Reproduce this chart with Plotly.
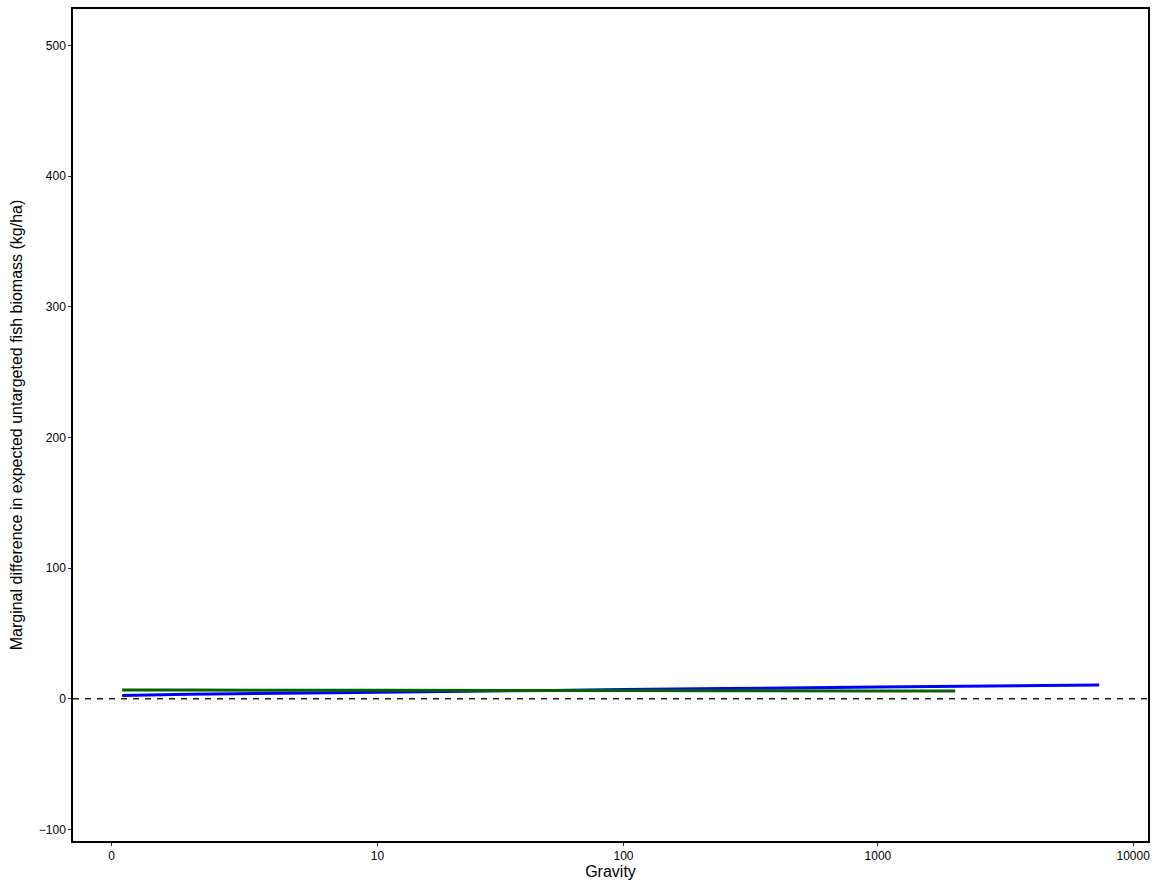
import numpy as np
import plotly.graph_objects as go

# Data (gravity values and marginal differences)
gravity_blue = [0.1, 1, 10, 100, 1000, 7360]
diff_blue = [2.4, 3.4, 4.9, 7.0, 8.9, 10.5]
gravity_green = [0.1, 1, 10, 100, 1000, 2009]
diff_green = [6.6, 6.6, 6.5, 6.3, 6.0, 5.9]

tick_vals = [0, 10, 100, 1000, 10000]
tick_text = ["0", "10", "100", "1000", "10000"]
y_ticks = [-100, 0, 100, 200, 300, 400, 500]


def tr(v):
    return np.log10(np.asarray(v, dtype=float) + 1)


fig = go.Figure()
fig.add_trace(go.Scatter(x=tr(gravity_blue), y=diff_blue, mode="lines",
                         line=dict(color="#0000FF", width=3), line_shape="spline",
                         showlegend=False, hoverinfo="skip"))
fig.add_trace(go.Scatter(x=tr(gravity_green), y=diff_green, mode="lines",
                         line=dict(color="#006400", width=3), line_shape="spline",
                         showlegend=False, hoverinfo="skip"))

fig.add_shape(type="line", xref="paper", yref="y", x0=0, x1=1, y0=0, y1=0,
              line=dict(color="#222222", width=1.5, dash="6px,6px"))

font = "Liberation Sans, Arial, Helvetica, sans-serif"
fig.update_layout(
    width=1157, height=886,
    margin=dict(l=73, r=8, t=7, b=45),
    paper_bgcolor="white", plot_bgcolor="white",
    font=dict(family=font, color="black", size=12),
    xaxis=dict(range=[-0.151, 4.058], tickvals=list(tr(tick_vals)), ticktext=tick_text,
               showgrid=False, zeroline=False, showline=True, linecolor="black", linewidth=1.5,
               mirror=True, ticks="outside", ticklen=3, tickcolor="#333333", tickwidth=1,
               tickfont=dict(size=12, color="black"),
               title=dict(text="Gravity", font=dict(size=16, color="black"), standoff=3)),
    yaxis=dict(range=[-108.9, 528], tickvals=y_ticks, ticktext=["\u2212100", "0", "100", "200", "300", "400", "500"],
               showgrid=False, zeroline=False, showline=True, linecolor="black", linewidth=1.5,
               mirror=True, ticks="outside", ticklen=3, tickcolor="#333333", tickwidth=1,
               tickfont=dict(size=12, color="black"),
               title=dict(text="Marginal difference in expected untargeted fish biomass (kg/ha)",
                          font=dict(size=16, color="black"), standoff=12)),
)

fig.write_html("out.html")
